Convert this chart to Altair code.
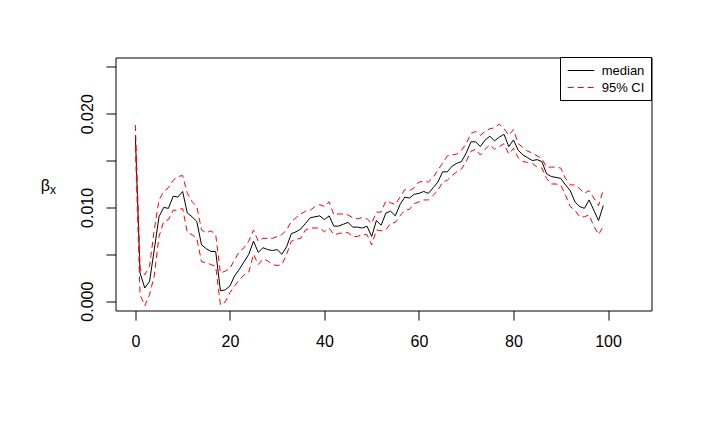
import altair as alt
import pandas as pd

x_vals = list(range(100))

median_vals = [
    0.0177, 0.0030, 0.0014, 0.0021, 0.0055, 0.0090, 0.0100, 0.0099, 0.0112, 0.0111,
    0.0117, 0.0094, 0.0090, 0.0085, 0.0060, 0.0056, 0.0053, 0.0053, 0.0011, 0.0012,
    0.0016, 0.0027, 0.0034, 0.0042, 0.0050, 0.0064, 0.0052, 0.0057, 0.0055, 0.0054,
    0.0055, 0.0050, 0.0058, 0.0072, 0.0074, 0.0077, 0.0083, 0.0089, 0.0090, 0.0091,
    0.0087, 0.0091, 0.0080, 0.0080, 0.0082, 0.0084, 0.0079, 0.0079, 0.0078, 0.0080,
    0.0069, 0.0086, 0.0081, 0.0094, 0.0096, 0.0091, 0.0103, 0.0111, 0.0110, 0.0114,
    0.0115, 0.0117, 0.0115, 0.0121, 0.0127, 0.0138, 0.0138, 0.0144, 0.0147, 0.0149,
    0.0158, 0.0170, 0.0170, 0.0165, 0.0172, 0.0176, 0.0171, 0.0175, 0.0178, 0.0165,
    0.0172, 0.0161, 0.0156, 0.0153, 0.0150, 0.0151, 0.0149, 0.0136, 0.0133, 0.0132,
    0.0131, 0.0124, 0.0118, 0.0106, 0.0101, 0.0099, 0.0108, 0.0097, 0.0086, 0.0102,
]

upper_vals = [
    0.0188, 0.0035, 0.0028, 0.0037, 0.0076, 0.0108, 0.0117, 0.0121, 0.0129, 0.0133,
    0.0134, 0.0115, 0.0106, 0.0101, 0.0076, 0.0073, 0.0075, 0.0071, 0.0030, 0.0032,
    0.0035, 0.0044, 0.0053, 0.0057, 0.0064, 0.0076, 0.0064, 0.0067, 0.0067, 0.0067,
    0.0069, 0.0071, 0.0076, 0.0085, 0.0089, 0.0093, 0.0096, 0.0097, 0.0101, 0.0103,
    0.0101, 0.0106, 0.0092, 0.0093, 0.0093, 0.0092, 0.0089, 0.0088, 0.0089, 0.0088,
    0.0083, 0.0095, 0.0095, 0.0107, 0.0105, 0.0103, 0.0111, 0.0119, 0.0118, 0.0121,
    0.0127, 0.0128, 0.0127, 0.0132, 0.0140, 0.0147, 0.0155, 0.0156, 0.0157, 0.0161,
    0.0168, 0.0179, 0.0181, 0.0177, 0.0181, 0.0184, 0.0185, 0.0189, 0.0184, 0.0177,
    0.0183, 0.0168, 0.0164, 0.0160, 0.0158, 0.0155, 0.0152, 0.0143, 0.0143, 0.0143,
    0.0142, 0.0131, 0.0124, 0.0124, 0.0120, 0.0115, 0.0118, 0.0110, 0.0102, 0.0119,
]

lower_vals = [
    0.0165, 0.0007, -0.0005, 0.0007, 0.0027, 0.0069, 0.0085, 0.0087, 0.0097, 0.0097,
    0.0099, 0.0073, 0.0071, 0.0067, 0.0042, 0.0041, 0.0039, 0.0037, -0.0004, -0.0001,
    0.0009, 0.0016, 0.0023, 0.0028, 0.0031, 0.0050, 0.0039, 0.0045, 0.0043, 0.0039,
    0.0038, 0.0039, 0.0050, 0.0064, 0.0066, 0.0067, 0.0076, 0.0078, 0.0078, 0.0078,
    0.0074, 0.0078, 0.0071, 0.0072, 0.0073, 0.0073, 0.0069, 0.0069, 0.0071, 0.0071,
    0.0060, 0.0076, 0.0075, 0.0076, 0.0083, 0.0084, 0.0091, 0.0097, 0.0098, 0.0104,
    0.0106, 0.0108, 0.0108, 0.0113, 0.0118, 0.0127, 0.0129, 0.0134, 0.0138, 0.0141,
    0.0149, 0.0160, 0.0162, 0.0156, 0.0162, 0.0167, 0.0162, 0.0165, 0.0168, 0.0157,
    0.0163, 0.0153, 0.0149, 0.0148, 0.0147, 0.0143, 0.0142, 0.0131, 0.0125, 0.0125,
    0.0124, 0.0113, 0.0101, 0.0097, 0.0090, 0.0090, 0.0092, 0.0080, 0.0071, 0.0080,
]

x_ticks = [0, 20, 40, 60, 80, 100]
y_ticks = [0.0, 0.005, 0.010, 0.015, 0.020, 0.025]
legend_labels = ["median", "95% CI"]
y_title = "β"
y_title_sub = "x"

df = pd.DataFrame({"x": x_vals, "median": median_vals, "upper": upper_vals, "lower": lower_vals})

FONT = "Liberation Sans"
W, H = 536, 253

xscale = alt.Scale(domain=[-4.2, 109.2], nice=False, zero=False)
yscale = alt.Scale(domain=[-0.001, 0.026], nice=False, zero=False)

xaxis = alt.Axis(
    values=x_ticks, title=None, grid=False, domain=False,
    tickSize=9.6, tickColor="black", tickWidth=1,
    labelFont=FONT, labelFontSize=16, labelColor="black",
    labelPadding=13, labelOverlap=False, labelFlush=False, labelBound=False,
)
yaxis = alt.Axis(
    values=y_ticks, grid=False, domain=False,
    tickSize=9.6, tickColor="black", tickWidth=1,
    labelExpr="abs(datum.value*100 - round(datum.value*100)) < 0.000001 ? format(datum.value, '.3f') : ''",
    labelFont=FONT, labelFontSize=16, labelColor="black",
    labelAngle=270, labelAlign="center", labelBaseline="alphabetic",
    labelPadding=13.6, labelOverlap=False, labelFlush=False, labelBound=False,
    title=y_title, titleAngle=0, titleAlign="right", titleBaseline="alphabetic",
    titleX=-66, titleY=133, titleFont=FONT, titleFontSize=16,
    titleFontWeight="normal", titleColor="black",
)

base = alt.Chart(df)
med_line = base.mark_line(color="black", strokeWidth=1).encode(
    x=alt.X("x:Q", scale=xscale, axis=xaxis),
    y=alt.Y("median:Q", scale=yscale, axis=yaxis),
)
up_line = base.mark_line(color="#FF0000", strokeWidth=1, strokeDash=[6, 4]).encode(
    x=alt.X("x:Q", scale=xscale),
    y=alt.Y("upper:Q", scale=yscale),
)
lo_line = base.mark_line(color="#FF0000", strokeWidth=1, strokeDash=[6, 4]).encode(
    x=alt.X("x:Q", scale=xscale),
    y=alt.Y("lower:Q", scale=yscale),
)

one = pd.DataFrame({"k": [0]})
title_sub = alt.Chart(one).mark_text(align="left", baseline="alphabetic", font=FONT, fontSize=12, color="black").encode(
    x=alt.value(-65.5), y=alt.value(136), text=alt.value(y_title_sub)
)
leg_box = alt.Chart(one).mark_rect(fill="white", stroke="black", strokeWidth=1).encode(
    x=alt.value(445), x2=alt.value(536), y=alt.value(0), y2=alt.value(43)
)
leg_med = alt.Chart(one).mark_rule(color="black", strokeWidth=1).encode(
    x=alt.value(452.2), x2=alt.value(478.8), y=alt.value(13)
)
leg_ci = alt.Chart(one).mark_rule(color="#FF0000", strokeWidth=1, strokeDash=[6, 4]).encode(
    x=alt.value(452.2), x2=alt.value(478.8), y=alt.value(30)
)
leg_t1 = alt.Chart(one).mark_text(align="left", baseline="middle", font=FONT, fontSize=13, color="black").encode(
    x=alt.value(486.2), y=alt.value(13.5), text=alt.value(legend_labels[0])
)
leg_t2 = alt.Chart(one).mark_text(align="left", baseline="middle", font=FONT, fontSize=13, color="black").encode(
    x=alt.value(486.2), y=alt.value(30.5), text=alt.value(legend_labels[1])
)

chart = alt.layer(med_line, up_line, lo_line, title_sub, leg_box, leg_med, leg_ci, leg_t1, leg_t2).properties(
    width=W, height=H,
    autosize=alt.AutoSizeParams(type="none"),
    padding={"left": 107.5, "top": 49.5, "right": 40, "bottom": 90},
    background="white",
).configure_view(stroke="black", strokeWidth=1)

chart.save("out.html", embed_options={"renderer": "svg", "actions": False})
